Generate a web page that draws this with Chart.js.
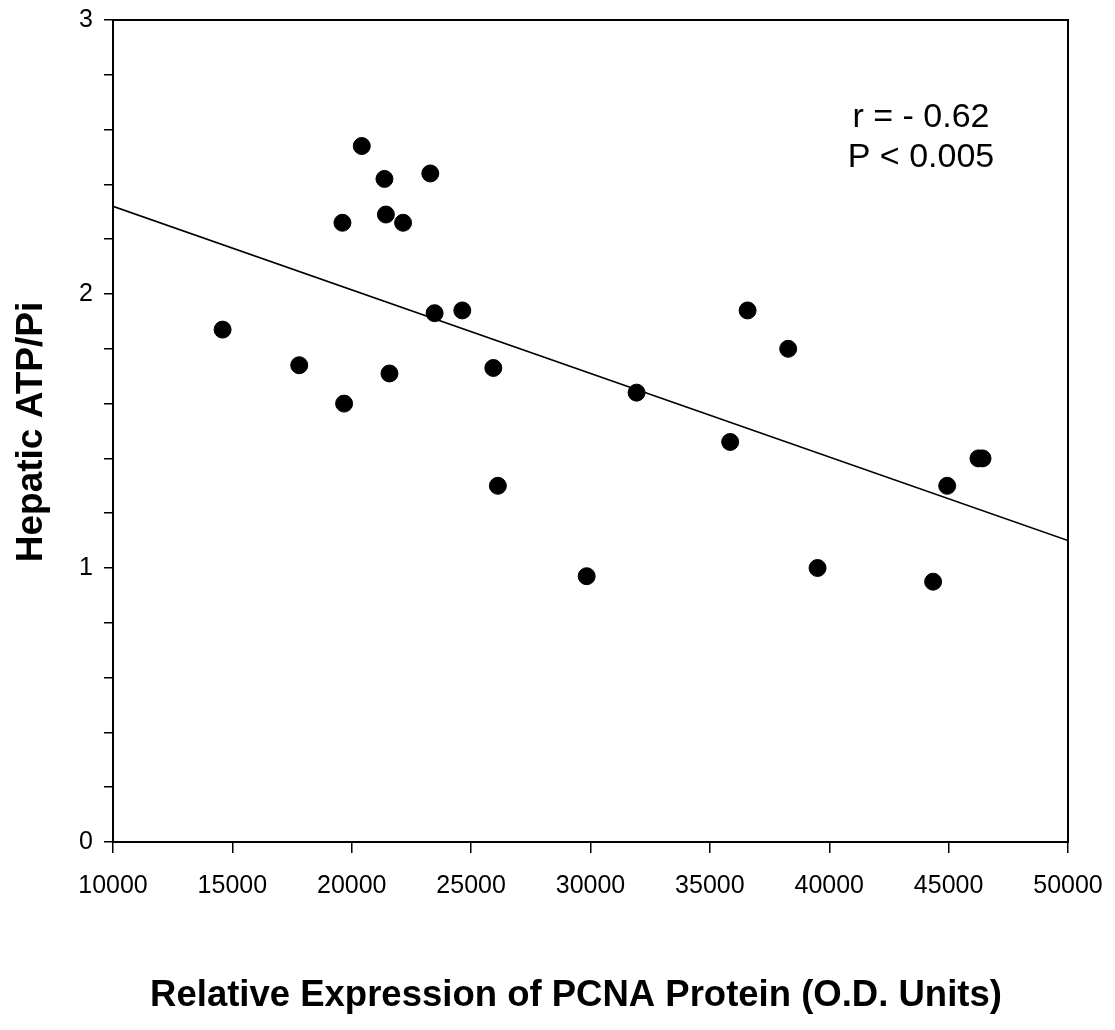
<!DOCTYPE html>
<html>
<head>
<meta charset="utf-8">
<script src="https://cdn.jsdelivr.net/npm/chart.js@4.4.1/dist/chart.umd.min.js"></script>
<style>
  html, body { margin: 0; padding: 0; background: #fff; }
  #wrap { width: 1115px; height: 1030px; }
</style>
</head>
<body>
<div id="wrap"><canvas id="chart" width="1115" height="1030"></canvas></div>
<script>
// Points (PCNA vs ATP/Pi hépatique)
const pcnaValues = [14590, 17800, 19610, 19680, 20420, 21370, 21430, 21580, 22150, 23290, 23470, 24630,
                    25930, 26120, 29840, 31930, 35850, 36580, 38280, 39510, 44350, 44940, 46250, 46420];
const atpValues = [1.87, 1.74, 2.26, 1.60, 2.54, 2.42, 2.29, 1.71, 2.26, 2.44, 1.93, 1.94,
                   1.73, 1.30, 0.97, 1.64, 1.46, 1.94, 1.80, 1.00, 0.95, 1.30, 1.40, 1.40];

// Droite de régression (extrémités)
const trendX = [10000, 50000];
const trendY = [2.32, 1.10];

const xTitle = 'Relative Expression of PCNA Protein (O.D. Units)';
const yTitle = 'Hepatic ATP/Pi';
const statsLines = ['r = - 0.62', 'P < 0.005'];

const FONT = '"Liberation Sans", Arial, Helvetica, sans-serif';

// Titres et annotation dessinés sur le canvas
const textPlugin = {
    id: 'texts',
    afterDraw(chart) {
        const ctx = chart.ctx;
        ctx.save();
        ctx.fillStyle = '#000';
        ctx.textAlign = 'center';
        ctx.textBaseline = 'middle';

        ctx.font = '34px ' + FONT;
        ctx.fillText(statsLines[0], 921, 118);
        ctx.fillText(statsLines[1], 921, 158);

        ctx.font = 'bold 36.5px ' + FONT;
        ctx.fillText(xTitle, 576, 996);

        ctx.font = 'bold 37px ' + FONT;
        ctx.translate(32, 432);
        ctx.rotate(-Math.PI / 2);
        ctx.fillText(yTitle, 0, 0);
        ctx.restore();
    }
};

// pas de marge automatique due aux libellés qui débordent
function noOverhang(s) {
    s.paddingTop = 0;
    s.paddingBottom = 0;
    s.paddingLeft = 0;
    s.paddingRight = 0;
}

new Chart(document.getElementById('chart'), {
    type: 'scatter',
    data: {
        datasets: [{
            label: 'ATP/Pi',
            data: pcnaValues.map((x, i) => ({ x: x, y: atpValues[i] })),
            backgroundColor: '#000',
            borderColor: '#000',
            pointRadius: 8.5,
            pointHoverRadius: 8.5
        }, {
            type: 'line',
            label: 'Regression',
            data: trendX.map((x, i) => ({ x: x, y: trendY[i] })),
            borderColor: '#000',
            borderWidth: 1.6,
            pointRadius: 0,
            fill: false
        }]
    },
    options: {
        responsive: false,
        animation: false,
        layout: { padding: { top: 20, right: 47, left: 0, bottom: 0 } },
        plugins: {
            legend: { display: false },
            tooltip: { enabled: false }
        },
        scales: {
            x: {
                type: 'linear',
                position: 'bottom',
                min: 10000,
                max: 50000,
                ticks: {
                    stepSize: 5000,
                    color: '#000',
                    font: { family: FONT, size: 25 },
                    padding: 18,
                    maxRotation: 0,
                    autoSkip: false,
                    callback: v => String(v)
                },
                grid: { drawOnChartArea: false, drawTicks: true, tickLength: 11, color: '#000', lineWidth: 1.5 },
                border: { display: true, color: '#000', width: 2 },
                afterFit: s => { noOverhang(s); s.height = 188; }
            },
            y: {
                type: 'linear',
                position: 'left',
                min: 0,
                max: 3,
                ticks: {
                    stepSize: 0.2,
                    color: '#000',
                    font: { family: FONT, size: 25 },
                    padding: 11,
                    autoSkip: false,
                    callback: v => (Math.abs(v - Math.round(v)) < 1e-6 ? String(Math.round(v)) : '')
                },
                grid: { drawOnChartArea: false, drawTicks: true, tickLength: 9, color: '#000', lineWidth: 1.5 },
                border: { display: true, color: '#000', width: 2 },
                afterFit: s => { noOverhang(s); s.width = 113; }
            },
            xTop: {
                type: 'linear',
                axis: 'x',
                position: 'top',
                min: 10000,
                max: 50000,
                ticks: { display: false },
                grid: { display: false },
                border: { display: true, color: '#000', width: 2 },
                afterFit: s => { noOverhang(s); s.height = 0; }
            },
            yRight: {
                type: 'linear',
                axis: 'y',
                position: 'right',
                min: 0,
                max: 3,
                ticks: { display: false },
                grid: { display: false },
                border: { display: true, color: '#000', width: 2 },
                afterFit: s => { noOverhang(s); s.width = 0; }
            }
        }
    },
    plugins: [textPlugin]
});
</script>
</body>
</html>
